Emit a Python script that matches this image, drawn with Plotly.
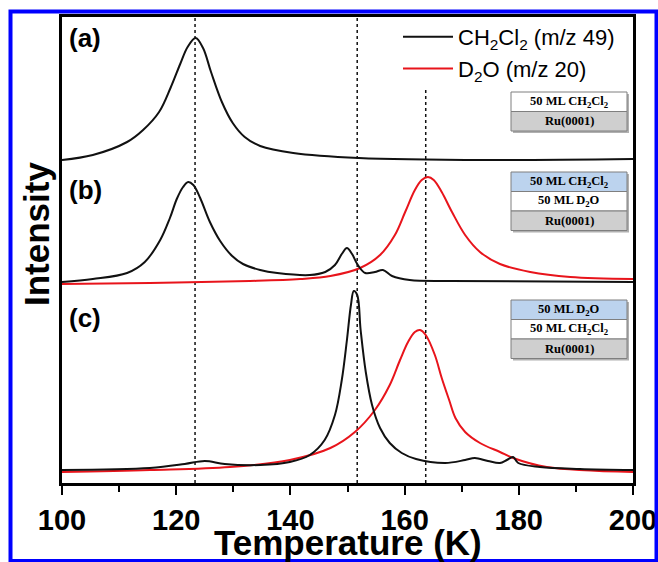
import plotly.graph_objects as go

# ---------------- data ----------------
# (a) 50 ML CH2Cl2 on Ru(0001): CH2Cl2 (m/z 49)
T_a_ch2cl2 = [100, 105.4, 111.4, 114.2, 117.0, 119.0, 120.7, 122.0, 123.4, 124.7,
              126.1, 128.0, 129.9, 132.0, 134.7, 140.5, 152.0, 175.0, 200.0]
I_a_ch2cl2 = [323, 328, 341, 353, 371, 395, 419, 436, 445, 435,
              411, 381, 360, 346, 337, 330, 325, 323, 324]

# (b) CH2Cl2 on D2O on Ru(0001)
T_b_ch2cl2 = [100, 105.4, 111.4, 114.5, 117.2, 118.9, 120.1, 121.2, 122.1, 123.0,
              124.2, 125.9, 127.7, 129.8, 131.7, 134.7, 137.7, 143.4, 146.1, 147.8,
              149.0, 149.9, 150.8, 151.7, 153.1, 154.8, 156.2, 157.8, 160.9, 168.0, 200.0]
I_b_ch2cl2 = [201, 204, 210, 221, 243, 265, 284, 296, 301, 298,
              285, 261, 242, 227, 219, 213, 210, 208, 211, 218,
              229, 235, 229, 219, 210, 211, 213, 207, 203, 202, 201]
T_b_d2o = [100, 115.4, 132.9, 141.7, 147.0, 152.2, 155.7, 158.3, 160.1, 161.8,
           163.0, 164.1, 165.1, 166.5, 168.3, 170.6, 173.2, 176.7, 182.0, 189.0, 200.0]
I_b_d2o = [199, 200, 202, 204, 207, 215, 228, 248, 271, 293,
           303, 306, 303, 291, 271, 248, 231, 219, 211, 206, 204]

# (c) D2O on CH2Cl2 on Ru(0001)
T_c_ch2cl2 = [100, 115.4, 121.5, 125.0, 128.5, 134.7, 139.9, 143.4, 146.0, 147.8,
              149.0, 149.9, 150.6, 151.1, 151.7, 152.3, 153.2, 154.3, 155.7, 157.4,
              159.5, 162.0, 167.1, 170.6, 172.3, 174.6, 176.7, 177.9, 179.0, 179.9,
              183.7, 190.7, 200.0]
I_c_ch2cl2 = [13, 15, 19, 22, 19, 18, 21, 28, 43, 68,
              103, 143, 178, 192, 188, 153, 111, 78, 55, 40,
              30, 24, 20, 23, 25, 22, 20, 23, 26, 20,
              16, 14, 13]
T_c_d2o = [100, 115.4, 129.4, 139.9, 147.0, 151.3, 154.8, 157.4, 159.2, 160.6,
           161.8, 162.7, 163.7, 165.3, 166.5, 167.8, 168.9, 170.6, 173.2, 176.7,
           179.0, 184.9, 200.0]
I_c_d2o = [11, 13, 16, 23, 35, 51, 73, 98, 123, 141,
           151, 153, 148, 128, 105, 83, 65, 51, 40, 31,
           25, 16, 11]

# vertical guide temperatures (K) and where each guide starts (intensity units)
guide_T = [123.3, 151.7, 163.7]
guide_top = [466, 466, 393]

panel_labels = ["(a)", "(b)", "(c)"]
legend_names = ["CH<sub>2</sub>Cl<sub>2</sub> (m/z 49)", "D<sub>2</sub>O (m/z 20)"]
x_ticks = [100, 120, 140, 160, 180, 200]

# ---------------- layout helpers ----------------
W, H = 658, 562
L, R, TOP, BOT = 62, 633, 17, 483


def px(xp):
    return (xp - L) / (R - L)


def py(yp):
    return (BOT - yp) / (BOT - TOP)


BLACK = "#111111"
RED = "#e8141b"
SANS = "Liberation Sans, Arial, sans-serif"
SERIF = "Liberation Serif, Times New Roman, serif"

fig = go.Figure()
line_b = dict(color=BLACK, width=2, shape="spline", smoothing=1.0)
line_r = dict(color=RED, width=2, shape="spline", smoothing=1.0)

fig.add_trace(go.Scatter(x=T_a_ch2cl2, y=I_a_ch2cl2, mode="lines", line=line_b,
                         name=legend_names[0], legendgroup="ch", showlegend=True))
fig.add_trace(go.Scatter(x=T_b_d2o, y=I_b_d2o, mode="lines", line=line_r,
                         name=legend_names[1], legendgroup="d2o", showlegend=True))
fig.add_trace(go.Scatter(x=T_b_ch2cl2, y=I_b_ch2cl2, mode="lines", line=line_b,
                         name=legend_names[0], legendgroup="ch", showlegend=False))
fig.add_trace(go.Scatter(x=T_c_d2o, y=I_c_d2o, mode="lines", line=line_r,
                         name=legend_names[1], legendgroup="d2o", showlegend=False))
fig.add_trace(go.Scatter(x=T_c_ch2cl2, y=I_c_ch2cl2, mode="lines", line=line_b,
                         name=legend_names[0], legendgroup="ch", showlegend=False))

shapes = []
for t, top in zip(guide_T, guide_top):
    shapes.append(dict(type="line", xref="x", yref="y", x0=t, x1=t, y0=0, y1=top,
                       line=dict(color=BLACK, width=1.5, dash="dot"), layer="below"))

annotations = []
# panel labels
for lab, yp in zip(panel_labels, [38, 190, 318]):
    annotations.append(dict(text=lab, xref="paper", yref="paper", x=px(67), y=py(yp),
                            xanchor="left", yanchor="middle", showarrow=False,
                            font=dict(family=SANS, size=26, color="black", weight="bold")))

# axis titles
annotations.append(dict(text="Temperature (K)", xref="paper", yref="paper",
                        x=px(348), y=py(542), xanchor="center", yanchor="middle",
                        showarrow=False,
                        font=dict(family=SANS, size=35, color="black", weight="bold")))
annotations.append(dict(text="Intensity", xref="paper", yref="paper",
                        x=px(36), y=py(234), xanchor="center", yanchor="middle",
                        textangle=-90, showarrow=False,
                        font=dict(family=SANS, size=35, color="black", weight="bold")))

# layer-stack insets
BLUE_FILL = "#bcd3ee"
WHITE_FILL = "#ffffff"
GRAY_FILL = "#cfcfcf"
ch_txt = "50 ML CH<sub>2</sub>Cl<sub>2</sub>"
d_txt = "50 ML D<sub>2</sub>O"
ru_txt = "Ru(0001)"
insets = [
    (92, [(ch_txt, WHITE_FILL), (ru_txt, GRAY_FILL)]),
    (172, [(ch_txt, BLUE_FILL), (d_txt, WHITE_FILL), (ru_txt, GRAY_FILL)]),
    (300, [(d_txt, BLUE_FILL), (ch_txt, WHITE_FILL), (ru_txt, GRAY_FILL)]),
]
BX0, BX1, ROW = 511, 627, 19.5
for y0, rows in insets:
    n = len(rows)
    shapes.append(dict(type="rect", xref="paper", yref="paper",
                       x0=px(BX0 + 2), x1=px(BX1 + 2), y0=py(y0 + n * ROW + 2), y1=py(y0 + 2),
                       fillcolor="#b0b0b0", line=dict(width=0), layer="above"))
    for i, (txt, fill) in enumerate(rows):
        ya, yb = y0 + i * ROW, y0 + (i + 1) * ROW
        shapes.append(dict(type="rect", xref="paper", yref="paper",
                           x0=px(BX0), x1=px(BX1), y0=py(yb), y1=py(ya),
                           fillcolor=fill, line=dict(color="#7f7f7f", width=1), layer="above"))
        annotations.append(dict(text=txt, xref="paper", yref="paper",
                                x=px((BX0 + BX1) / 2), y=py((ya + yb) / 2),
                                xanchor="center", yanchor="middle", showarrow=False,
                                font=dict(family=SERIF, size=12.5, color="black",
                                          weight="bold")))

# blue outer frame
shapes.append(dict(type="rect", xref="paper", yref="paper",
                   x0=px(10.5), x1=px(656.5), y0=py(561), y1=py(11.5),
                   line=dict(color="#0000ff", width=4), fillcolor="rgba(0,0,0,0)"))

fig.update_layout(
    width=W, height=H,
    margin=dict(l=L, r=W - R, t=TOP, b=H - BOT, autoexpand=False),
    paper_bgcolor="white", plot_bgcolor="white",
    shapes=shapes, annotations=annotations,
    showlegend=True,
    legend=dict(x=px(398), y=py(16), xanchor="left", yanchor="top",
                bgcolor="rgba(0,0,0,0)", borderwidth=0,
                font=dict(family=SANS, size=22, color="black"),
                itemwidth=50, tracegroupgap=0),
    xaxis=dict(range=[100, 200], tickmode="array", tickvals=x_ticks,
               ticks="outside", ticklen=9, tickwidth=2, tickcolor="black",
               minor=dict(dtick=10, ticks="outside", ticklen=6, tickwidth=2, tickcolor="black"),
               showline=True, linewidth=2.5, linecolor="black", mirror=True,
               showgrid=False, zeroline=False, automargin=False,
               ticklabeloverflow="allow", ticklabelstandoff=0,
               tickfont=dict(family=SANS, size=29, color="black", weight="bold")),
    yaxis=dict(range=[0, 466], showticklabels=False, ticks="",
               showline=True, linewidth=2.5, linecolor="black", mirror=True,
               showgrid=False, zeroline=False, automargin=False),
)

fig.write_html("out.html")
